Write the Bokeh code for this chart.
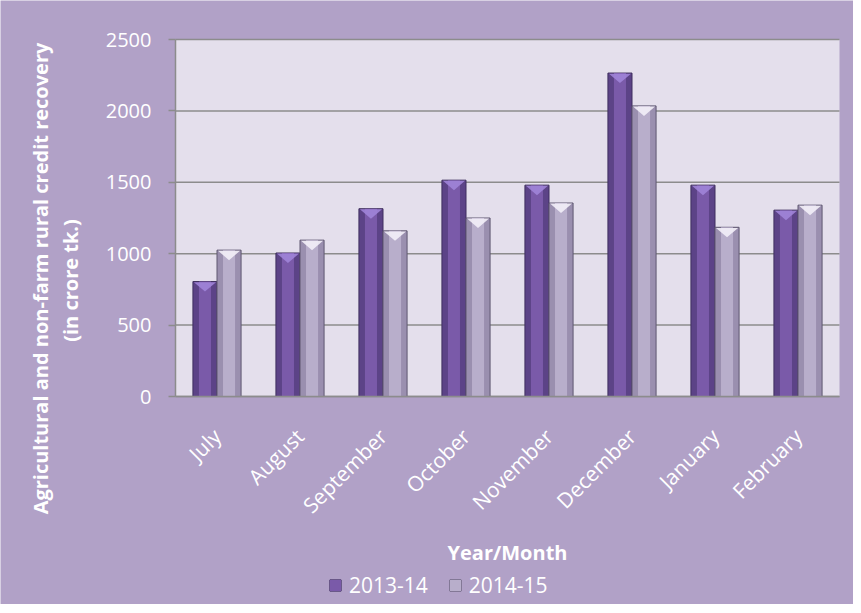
from math import pi
from bokeh.plotting import figure
from bokeh.models import Range1d, ColumnDataSource, Legend, LegendItem, FixedTicker
from bokeh.core.properties import value
from bokeh.embed import file_html
from bokeh.resources import INLINE

months = ["July", "August", "September", "October", "November", "December", "January", "February"]
series_names = ["2013-14", "2014-15"]
recovery_2013_14 = [805, 1005, 1315, 1515, 1480, 2265, 1480, 1305]
recovery_2014_15 = [1025, 1095, 1160, 1250, 1355, 2035, 1185, 1340]
y_ticks = [0, 500, 1000, 1500, 2000, 2500]
y_title_lines = ["Agricultural and non-farm rural credit recovery", "(in crore tk.)"]
x_title = "Year/Month"

FONT = "Open Sans"
OUTER_BG = "#B1A1C7"
PLOT_BG = "#E4DFEC"
GRID = "#8C8C8C"

# figure size and the insets of the plot area inside it (pixels)
FW, FH = 853, 604
PL, PT, PR, PB = 175, 39, 14, 208

n = len(months)
ymax = y_ticks[-1]
ux = n / (FW - PL - PR)      # data units per pixel, x
uy = ymax / (FH - PT - PB)   # data units per pixel, y
x0, y0 = -PL * ux, -PB * uy

def px_x(px):
    return x0 + px * ux

def px_y(px_from_top):
    return (ymax + PT * uy) - px_from_top * uy

p = figure(x_range=Range1d(x0, n + PR * ux), y_range=Range1d(y0, ymax + PT * uy),
           width=FW, height=FH, output_backend="svg", toolbar_location=None, min_border=0)
p.border_fill_color = OUTER_BG
p.background_fill_color = OUTER_BG
p.outline_line_color = None
p.grid.grid_line_color = None

# plot area background and gridlines
p.quad(left=[0], right=[n], bottom=[y_ticks[0]], top=[ymax], fill_color=PLOT_BG, line_color=None)
p.segment(x0=[0] * len(y_ticks), x1=[n] * len(y_ticks), y0=y_ticks, y1=y_ticks,
          line_color=GRID, line_width=1.5)

bw = 0.29
styles = [
    dict(edge="#5C4387", main="#7A5AA9", border="#3F2F5E", cap="#A084D8"),
    dict(edge="#9A8FAF", main="#B8AECB", border="#5F5770", cap="#F3F0F8"),
]
offsets = [-bw / 2, bw / 2]
legend_items = []
cap_h = 10 * uy
for name, vals, off, st in zip(series_names, [recovery_2013_14, recovery_2014_15], offsets, styles):
    xc = [i + 0.5 + off for i in range(n)]
    src = ColumnDataSource(dict(x=xc, top=vals))
    r1 = p.vbar(x="x", top="top", width=bw, source=src,
                fill_color=st["edge"], line_color=st["border"], line_width=1)
    r2 = p.vbar(x="x", top="top", width=bw * 0.5, source=src,
                fill_color=st["main"], line_color=None)
    xs, ys = [], []
    for cx, v in zip(xc, vals):
        xs.append([cx - bw / 2 + 0.012, cx + bw / 2 - 0.012, cx])
        ys.append([v - 0.6 * uy, v - 0.6 * uy, v - cap_h])
    p.patches(xs=xs, ys=ys, fill_color=st["cap"], line_color=None, fill_alpha=0.9)
    legend_items.append(LegendItem(label=name, renderers=[r1, r2]))

# y axis
p.yaxis.fixed_location = 0
p.yaxis.bounds = (y_ticks[0], ymax)
p.yaxis.ticker = FixedTicker(ticks=y_ticks)
p.yaxis.minor_tick_line_color = None
p.yaxis.major_tick_out = 7
p.yaxis.major_tick_in = 0
p.yaxis.major_tick_line_color = GRID
p.yaxis.major_tick_line_width = 1.5
p.yaxis.axis_line_color = GRID
p.yaxis.axis_line_width = 1.5
p.yaxis.major_label_standoff = 17
p.yaxis.major_label_text_font = FONT
p.yaxis.major_label_text_font_size = "20px"
p.yaxis.major_label_text_color = "white"

# x axis
centers = [i + 0.5 for i in range(n)]
p.xaxis.fixed_location = 0
p.xaxis.bounds = (0, n)
p.xaxis.ticker = FixedTicker(ticks=centers)
p.xaxis.major_label_overrides = {c: m for c, m in zip(centers, months)}
p.xaxis.axis_line_color = GRID
p.xaxis.axis_line_width = 1.5
p.xaxis.major_tick_line_color = None
p.xaxis.minor_tick_line_color = None
p.xaxis.major_label_orientation = pi / 4
p.xaxis.major_label_standoff = 30
p.xaxis.major_label_text_font = FONT
p.xaxis.major_label_text_font_size = "21px"
p.xaxis.major_label_text_color = "white"
p.xaxis.axis_label = x_title
p.xaxis.axis_label_text_font = FONT
p.xaxis.axis_label_text_font_size = "20px"
p.xaxis.axis_label_text_font_style = "bold"
p.xaxis.axis_label_text_color = "white"
p.xaxis.axis_label_standoff = 7

# y title, two lines
p.text(x=[px_x(40), px_x(70)], y=[px_y(278), px_y(280)], text=y_title_lines, angle=pi / 2,
       text_align="center", text_baseline="middle", text_font=value(FONT),
       text_font_size="20px", text_font_style="bold", text_color="white")

legend = Legend(items=legend_items, orientation="horizontal", location=(328, 5),
                label_text_font=FONT, label_text_font_size="21px", label_text_color="white",
                glyph_width=14, glyph_height=14, label_standoff=7, spacing=20, padding=0, margin=0,
                background_fill_alpha=0, border_line_alpha=0)
p.add_layout(legend)

open("out.html", "w").write(file_html(p, INLINE))
